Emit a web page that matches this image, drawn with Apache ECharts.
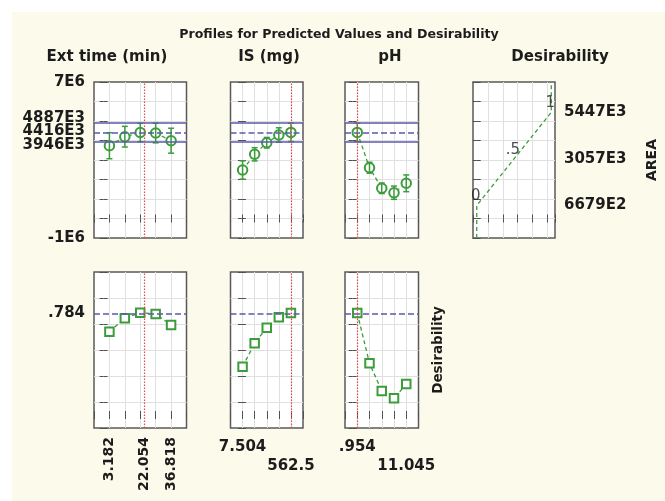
<!DOCTYPE html>
<html>
<head>
<meta charset="utf-8">
<script src="https://cdn.jsdelivr.net/npm/echarts@6/dist/echarts.min.js"></script>
<style>
  html, body { margin: 0; padding: 0; background: #ffffff; }
  #chart { width: 665px; height: 501px; }
</style>
</head>
<body>
<div id="chart"></div>
<script>
// ---- Factor levels (x positions of the profile points) ----
const extTimeLevels = [3.182, 11.591, 20.0, 28.409, 36.818];
const isLevels      = [7.504, 146.253, 285.002, 423.751, 562.5];
const phLevels      = [0.954, 3.47675, 5.9995, 8.52225, 11.045];

// ---- Predicted AREA at each level ----
const extTimeArea = [3733e3, 4195e3, 4410e3, 4385e3, 3990e3];
const isArea      = [2487e3, 3292e3, 3887e3, 4282e3, 4416e3];
const phArea      = [4416e3, 2605e3, 1549e3, 1323e3, 1805e3];

// ---- Half-width of the confidence bars on AREA ----
const extTimeErr = [667e3, 530e3, 471e3, 505e3, 640e3];
const isErr      = [470e3, 340e3, 270e3, 370e3, 471e3];
const phErr      = [471e3, 280e3, 270e3, 340e3, 430e3];

// ---- Desirability at each level ----
const extTimeDesir = [0.641, 0.744, 0.786, 0.777, 0.692];
const isDesir      = [0.372, 0.552, 0.672, 0.752, 0.784];
const phDesir      = [0.784, 0.398, 0.185, 0.128, 0.238];

// ---- Current settings and the prediction there ----
const currentSettings = [22.054, 562.5, 0.954];
const areaLower = 3946e3;
const areaPredicted = 4416e3;
const areaUpper = 4887e3;
const desirCurrent = 0.784;

// ---- Desirability function of AREA ----
const desirCurveD    = [0, 0, 0.5, 1, 1];
const desirCurveArea = [-1e6, 667.9e3, 3057e3, 5447e3, 7e6];
const desirPointD      = [0, 0.5, 1];
const desirPointArea   = [667.9e3, 3057e3, 5447e3];
const desirPointLabels = ['0', '.5', '1'];

// ---- Tick labels ----
const areaTickValues = [7e6, 4887e3, 4416e3, 3946e3, -1e6];
const areaTickLabels = ['7E6', '4887E3', '4416E3', '3946E3', '-1E6'];
const desirAreaTickValues = [667.9e3, 3057e3, 5447e3];
const desirAreaTickLabels = ['6679E2', '3057E3', '5447E3'];
const desirTickValues = [0.784];
const desirTickLabels = ['.784'];
const extTimeTickValues = [3.182, 22.054, 36.818];
const extTimeTickLabels = ['3.182', '22.054', '36.818'];
const isTickValues = [7.504, 562.5];
const isTickLabels = ['7.504', '562.5'];
const phTickValues = [0.954, 11.045];
const phTickLabels = ['.954', '11.045'];

// ---- Styling ----
const GREEN = '#3c9c3c';
const BLUE = '#5a5aae';
const RED = '#e04a4a';
const INK = '#1c1c1c';
const FONT = 'DejaVu Sans';

// panel boxes: three AREA profiles, desirability function, three desirability profiles
const panels = [
  { left: 94,    top: 82,  width: 92.5, height: 156 },
  { left: 230.5, top: 82,  width: 72.5, height: 156 },
  { left: 345,   top: 82,  width: 73.5, height: 156 },
  { left: 473,   top: 82,  width: 82,   height: 156 },
  { left: 94,    top: 272, width: 92.5, height: 156 },
  { left: 230.5, top: 272, width: 72.5, height: 156 },
  { left: 345,   top: 272, width: 73.5, height: 156 }
];

const extRange   = { min: -5.227,   max: 45.227,  interval: 8.409 };
const isRange    = { min: -131.245, max: 701.249, interval: 138.749 };
const phRange    = { min: -1.56875, max: 13.56775, interval: 2.52275 };
const areaRange  = { min: -1e6,     max: 7e6,     interval: 1e6 };
const desirRange = { min: -0.1,     max: 1.1,     interval: 0.2 };
const dRange     = { min: -0.05,    max: 1.05,    interval: 0.2 };

function nearestIndex(values, v) {
  let best = 0, bd = Infinity;
  values.forEach((x, i) => { const d = Math.abs(x - v); if (d < bd) { bd = d; best = i; } });
  return best;
}
function lookup(values, labels) {
  return (v) => labels[nearestIndex(values, v)];
}

const labelBase = {
  show: true, fontFamily: FONT, fontWeight: 'bold', fontSize: 15, color: INK, hideOverlap: false
};
const richBold = { fontFamily: FONT, fontWeight: 'bold', fontSize: 15, color: INK };

function makeAxis(pos, gridIndex, range, withSplit, label) {
  return {
    type: 'value', gridIndex: gridIndex, position: pos,
    min: range.min, max: range.max, interval: range.interval,
    axisLine: { show: false },
    axisTick: { show: true, inside: true, length: 4, lineStyle: { color: '#505050', width: 1 } },
    splitLine: { show: withSplit, showMinLine: false, showMaxLine: false,
                 lineStyle: { color: '#e0e0e0', width: 1 } },
    axisLabel: label || { show: false },
    axisPointer: { show: false }
  };
}

const xRanges = [extRange, isRange, phRange, dRange, extRange, isRange, phRange];
const yRanges = [areaRange, areaRange, areaRange, areaRange, desirRange, desirRange, desirRange];

// the three stacked AREA labels are spread a little so they stay readable
const areaLabelStyle = ['n', 'u', 'm', 'd', 'n'];

const xLabels = {
  4: Object.assign({}, labelBase, {
    fontSize: 14, rotate: 90, margin: 9,
    customValues: extTimeTickValues, formatter: lookup(extTimeTickValues, extTimeTickLabels)
  }),
  5: Object.assign({}, labelBase, {
    margin: 10, lineHeight: 19, customValues: isTickValues,
    formatter: (v) => { const i = nearestIndex(isTickValues, v); return (i === 1 ? '\n' : '') + isTickLabels[i]; }
  }),
  6: Object.assign({}, labelBase, {
    margin: 10, lineHeight: 19, customValues: phTickValues,
    formatter: (v) => { const i = nearestIndex(phTickValues, v); return (i === 1 ? '\n' : '') + phTickLabels[i]; }
  })
};
const yLeftLabels = {
  0: Object.assign({}, labelBase, {
    margin: 9, customValues: areaTickValues,
    formatter: (v) => {
      const i = nearestIndex(areaTickValues, v);
      return '{' + areaLabelStyle[i] + '|' + areaTickLabels[i] + '}';
    },
    rich: {
      n: Object.assign({}, richBold),
      u: Object.assign({ padding: [0, 0, 10, 0] }, richBold),
      m: Object.assign({ padding: [0, 0, 2, 0] }, richBold),
      d: Object.assign({ padding: [7, 0, 0, 0] }, richBold)
    }
  }),
  4: Object.assign({}, labelBase, {
    margin: 9, customValues: desirTickValues, formatter: lookup(desirTickValues, desirTickLabels)
  })
};
const yRightLabels = {
  3: Object.assign({}, labelBase, {
    margin: 9, customValues: desirAreaTickValues, formatter: lookup(desirAreaTickValues, desirAreaTickLabels)
  })
};

const grids = [], xAxes = [], yAxes = [];
panels.forEach((p, i) => {
  grids.push(Object.assign({
    show: true, backgroundColor: '#ffffff', borderColor: '#595959', borderWidth: 1.5,
    containLabel: false, outerBoundsMode: 'none'
  }, p));
  xAxes.push(makeAxis('bottom', i, xRanges[i], true, xLabels[i]));
  xAxes.push(makeAxis('top', i, xRanges[i], false));
  yAxes.push(makeAxis('left', i, yRanges[i], true, yLeftLabels[i]));
  yAxes.push(makeAxis('right', i, yRanges[i], false, yRightLabels[i]));
});

function errorBars(params, api) {
  const x = api.value(0);
  const lo = api.coord([x, api.value(1)]);
  const hi = api.coord([x, api.value(2)]);
  const cap = 3;
  const st = { stroke: GREEN, lineWidth: 1.5 };
  return {
    type: 'group',
    children: [
      { type: 'line', shape: { x1: lo[0], y1: lo[1], x2: hi[0], y2: hi[1] }, style: st },
      { type: 'line', shape: { x1: lo[0] - cap, y1: lo[1], x2: lo[0] + cap, y2: lo[1] }, style: st },
      { type: 'line', shape: { x1: hi[0] - cap, y1: hi[1], x2: hi[0] + cap, y2: hi[1] }, style: st }
    ]
  };
}

const profiles = [
  { levels: extTimeLevels, area: extTimeArea, err: extTimeErr, desir: extTimeDesir },
  { levels: isLevels,      area: isArea,      err: isErr,      desir: isDesir },
  { levels: phLevels,      area: phArea,      err: phErr,      desir: phDesir }
];

const redLine = { color: RED, type: [1.5, 1.5], width: 1.2 };
const series = [];
profiles.forEach((s, k) => {
  const t = k, b = k + 4;
  series.push({
    type: 'line', xAxisIndex: 2 * t, yAxisIndex: 2 * t, z: 3,
    data: s.levels.map((x, i) => [x, s.area[i]]),
    symbol: 'emptyCircle', symbolSize: 9.5, showSymbol: true,
    lineStyle: { color: GREEN, width: 1.3, type: [4, 3] },
    itemStyle: { color: GREEN, borderWidth: 1.5 },
    markLine: {
      silent: true, symbol: ['none', 'none'], label: { show: false }, animation: false,
      data: [
        { yAxis: areaUpper,     lineStyle: { color: BLUE, type: 'solid', width: 1.5 } },
        { yAxis: areaPredicted, lineStyle: { color: BLUE, type: [6, 3], width: 1.5 } },
        { yAxis: areaLower,     lineStyle: { color: BLUE, type: 'solid', width: 1.5 } },
        { xAxis: currentSettings[k], lineStyle: redLine }
      ]
    }
  });
  series.push({
    type: 'custom', xAxisIndex: 2 * t, yAxisIndex: 2 * t, z: 4,
    data: s.levels.map((x, i) => [x, s.area[i] - s.err[i], s.area[i] + s.err[i]]),
    encode: { x: 0, y: [1, 2] },
    renderItem: errorBars
  });
  series.push({
    type: 'line', xAxisIndex: 2 * b, yAxisIndex: 2 * b, z: 3,
    data: s.levels.map((x, i) => [x, s.desir[i]]),
    symbol: 'emptyRect', symbolSize: 8.5, showSymbol: true,
    lineStyle: { color: GREEN, width: 1.3, type: [4, 3] },
    itemStyle: { color: GREEN, borderWidth: 1.5 },
    markLine: {
      silent: true, symbol: ['none', 'none'], label: { show: false }, animation: false,
      data: [
        { yAxis: desirCurrent, lineStyle: { color: BLUE, type: [6, 3], width: 1.5 } },
        { xAxis: currentSettings[k], lineStyle: redLine }
      ]
    }
  });
});

// desirability function of AREA
series.push({
  type: 'line', xAxisIndex: 6, yAxisIndex: 6, z: 3,
  data: desirCurveD.map((d, i) => [d, desirCurveArea[i]]),
  symbol: 'none',
  lineStyle: { color: GREEN, width: 1.3, type: [4, 3] }
});
series.push({
  type: 'scatter', xAxisIndex: 6, yAxisIndex: 6, z: 5,
  data: desirPointD.map((d, i) => [d, desirPointArea[i]]),
  symbolSize: 1, itemStyle: { color: 'rgba(0,0,0,0)' },
  label: {
    show: true, position: 'top', distance: 1, offset: [-1, 0],
    fontFamily: FONT, fontSize: 15, color: '#222222',
    formatter: (p) => desirPointLabels[p.dataIndex]
  }
});

const headFont = 'bold 15px "DejaVu Sans"';
const graphic = [
  { type: 'rect', z: -100, silent: true, shape: { x: 12, y: 12, width: 653, height: 489 },
    style: { fill: '#fcfaeb' } },
  { type: 'text', z: 10, x: 339, y: 35,
    style: { text: 'Profiles for Predicted Values and Desirability', font: 'bold 12.6px "DejaVu Sans"',
             fill: INK, align: 'center', verticalAlign: 'middle' } },
  { type: 'text', z: 10, x: 107, y: 57,
    style: { text: 'Ext time (min)', font: headFont, fill: INK, align: 'center', verticalAlign: 'middle' } },
  { type: 'text', z: 10, x: 269, y: 57,
    style: { text: 'IS (mg)', font: headFont, fill: INK, align: 'center', verticalAlign: 'middle' } },
  { type: 'text', z: 10, x: 390, y: 57,
    style: { text: 'pH', font: headFont, fill: INK, align: 'center', verticalAlign: 'middle' } },
  { type: 'text', z: 10, x: 560, y: 57,
    style: { text: 'Desirability', font: headFont, fill: INK, align: 'center', verticalAlign: 'middle' } },
  { type: 'text', z: 10, x: 652, y: 160, rotation: Math.PI / 2,
    style: { text: 'AREA', font: 'bold 14px "DejaVu Sans"', fill: INK, align: 'center', verticalAlign: 'middle' } },
  { type: 'text', z: 10, x: 438, y: 350, rotation: Math.PI / 2,
    style: { text: 'Desirability', font: 'bold 13.5px "DejaVu Sans"', fill: INK, align: 'center', verticalAlign: 'middle' } }
];

const chart = echarts.init(document.getElementById('chart'), null, { renderer: 'canvas' });
chart.setOption({
  animation: false,
  backgroundColor: '#ffffff',
  grid: grids,
  xAxis: xAxes,
  yAxis: yAxes,
  series: series,
  graphic: graphic
});
</script>
</body>
</html>
